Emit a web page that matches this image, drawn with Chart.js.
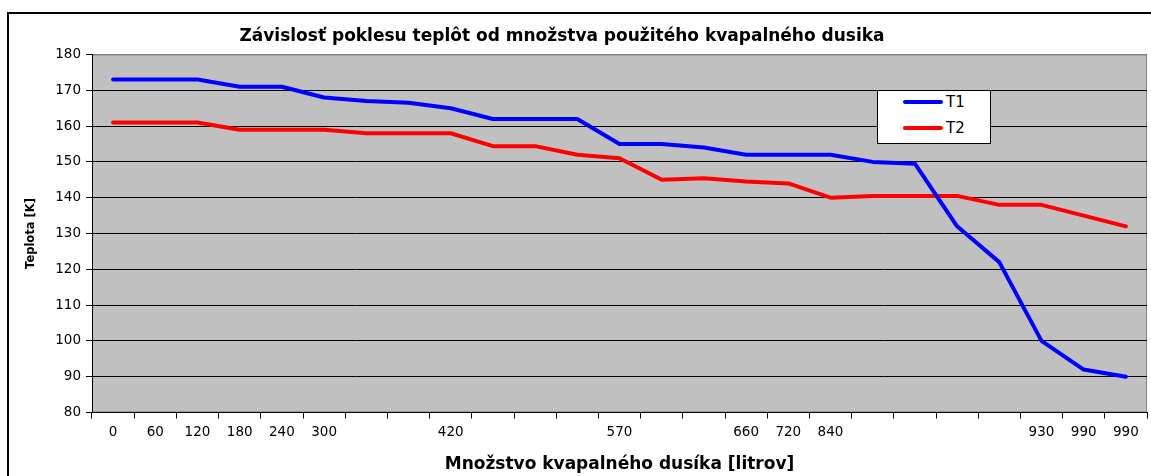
<!DOCTYPE html>
<html>
<head>
<meta charset="utf-8">
<script src="https://cdn.jsdelivr.net/npm/chart.js@4.4.1/dist/chart.umd.min.js"></script>
<style>
    html, body { margin: 0; padding: 0; background: #fff; }
    #wrap { position: relative; width: 1151px; height: 476px; overflow: hidden; }
    #frame { position: absolute; left: 7px; top: 12px; width: 1200px; height: 500px; border-left: 2px solid #000; border-top: 2px solid #000; }
    #chart { position: absolute; left: 0; top: 0; }
    #customLegend { position: absolute; left: 877px; top: 90px; width: 112px; height: 52px; background: #fff; border: 1px solid #000; }
    .simple-legend-item { position: absolute; left: 25px; height: 18px; display: flex; align-items: center; font: 15px "DejaVu Sans"; color: #000; }
    .simple-legend-color { width: 40px; height: 4px; border-radius: 2px; margin-right: 3px; }
</style>
</head>
<body>
<div id="wrap">
    <div id="frame"></div>
    <canvas id="chart" width="1151" height="476"></canvas>
    <div id="customLegend"></div>
</div>
<script>
// x categories (litrov) - blanks where the original axis shows no label
const categories = ['0', '60', '120', '180', '240', '300', '', '', '420', '', '', '', '570',
    '', '', '660', '720', '840', '', '', '', '', '930', '990', '990'];

const t1Values = [173, 173, 173, 171, 171, 168, 167, 166.5, 165, 162, 162, 162, 155,
    155, 154, 152, 152, 152, 150, 149.5, 132, 122, 100, 92, 90];
const t2Values = [161, 161, 161, 159, 159, 159, 158, 158, 158, 154.4, 154.4, 152, 151,
    145, 145.4, 144.5, 144, 140, 140.5, 140.5, 140.5, 138, 138, 135, 132];

const yMin = 80;
const yMax = 180;
const yStep = 10;

Chart.defaults.font.family = '"DejaVu Sans", sans-serif';
Chart.defaults.color = '#000';

// gray plot area with a gray frame, like the old Excel chart
const plotBackground = {
    id: 'plotBackground',
    beforeDraw(chart) {
        const { ctx, chartArea: a } = chart;
        ctx.save();
        ctx.fillStyle = '#C0C0C0';
        ctx.fillRect(a.left, a.top, a.right - a.left, a.bottom - a.top);
        ctx.strokeStyle = '#808080';
        ctx.lineWidth = 1;
        ctx.strokeRect(a.left + 0.5, a.top + 0.5, a.right - a.left - 1, a.bottom - a.top - 1);
        ctx.restore();
    }
};

const ctx = document.getElementById('chart').getContext('2d');

const chart = new Chart(ctx, {
    type: 'line',
    data: {
        labels: categories,
        datasets: [{
            label: 'T1',
            data: t1Values,
            borderColor: '#0000FF',
            backgroundColor: '#0000FF',
            borderWidth: 4,
            pointRadius: 0,
            tension: 0,
            borderCapStyle: 'round',
            borderJoinStyle: 'round'
        }, {
            label: 'T2',
            data: t2Values,
            borderColor: '#FF0000',
            backgroundColor: '#FF0000',
            borderWidth: 4,
            pointRadius: 0,
            tension: 0,
            borderCapStyle: 'round',
            borderJoinStyle: 'round'
        }]
    },
    options: {
        responsive: false,
        animation: false,
        devicePixelRatio: 1,
        layout: {
            padding: { left: -23, right: 4, top: 26, bottom: 0 }
        },
        plugins: {
            legend: { display: false },
            tooltip: { enabled: false },
            title: {
                display: true,
                text: 'Závislosť poklesu teplôt od množstva použitého kvapalného dusika',
                color: '#000',
                font: { size: 17, weight: 'bold' },
                padding: { top: 0, bottom: 8.1 }
            }
        },
        scales: {
            x: {
                type: 'category',
                offset: true,
                grid: {
                    offset: true,
                    drawOnChartArea: false,
                    tickLength: 6,
                    tickColor: '#000'
                },
                border: { color: '#000' },
                ticks: {
                    autoSkip: false,
                    maxRotation: 0,
                    padding: 6,
                    font: { size: 13.5 }
                },
                title: {
                    display: true,
                    text: 'Množstvo kvapalného dusíka [litrov]',
                    font: { size: 17, weight: 'bold' },
                    padding: { top: 0, bottom: 1 }
                },
                afterFit(scale) { scale.height = 63.5; }
            },
            y: {
                min: yMin,
                max: yMax,
                ticks: {
                    stepSize: yStep,
                    padding: 5,
                    font: { size: 13.5 }
                },
                grid: {
                    color: (c) => (c.tick && c.tick.value === yMax ? '#808080' : '#000'),
                    tickLength: 6,
                    tickColor: '#000'
                },
                border: { color: '#000' },
                title: {
                    display: true,
                    text: 'Teplota [K]',
                    font: { size: 11.5, weight: 'bold' },
                    padding: { top: 47, bottom: 0 }
                },
                afterFit(scale) { scale.width = 115; }
            }
        }
    },
    plugins: [plotBackground]
});

function createSimpleLegend(chart) {
    const legendContainer = document.getElementById('customLegend');
    let legendHTML = '';
    chart.data.datasets.forEach((ds, index) => {
        const top = 2 + index * 26;
        legendHTML += `
            <div class="simple-legend-item" style="top:${top}px">
                <span class="simple-legend-color" style="background-color:${ds.borderColor}"></span>
                <span class="simple-legend-text">${ds.label}</span>
            </div>`;
    });
    legendContainer.innerHTML = legendHTML;
}

createSimpleLegend(chart);
</script>
</body>
</html>
